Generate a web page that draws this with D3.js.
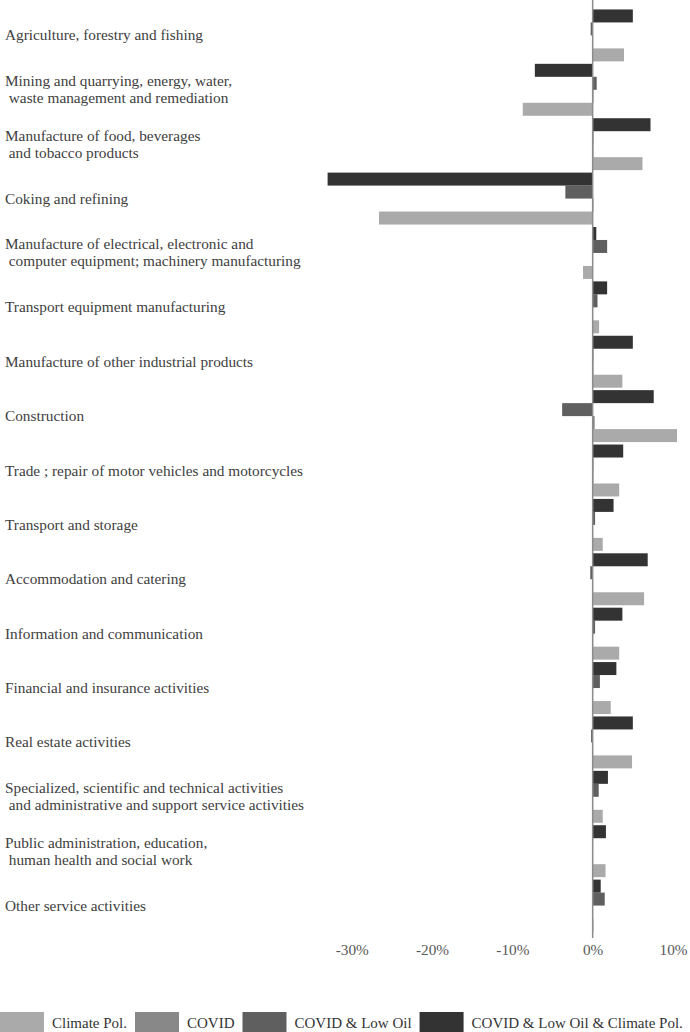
<!DOCTYPE html>
<html>
  <head>
    <meta charset="utf-8">
    <title>Sector impacts</title>
    <script src="https://d3js.org/d3.v7.min.js"></script>
    <style>
      body { margin: 0; background: #fff; }
      svg text { font-family: "Liberation Serif", "Times New Roman", serif; }
      .cat { fill: #404040; font-size: 15.3px; white-space: pre; }
      .tick text { fill: #595959; font-size: 15.3px; }
      .legend text { fill: #333; font-size: 15px; }
    </style>
  </head>
<body>
<svg id="visual" width="690" height="1032"></svg>
<script type="text/javascript">
    // sector labels, one entry per line
    var categories = [
        ["Agriculture, forestry and fishing"],
        ["Mining and quarrying, energy, water,", " waste management and remediation"],
        ["Manufacture of food, beverages", " and tobacco products"],
        ["Coking and refining"],
        ["Manufacture of electrical, electronic and", " computer equipment; machinery manufacturing"],
        ["Transport equipment manufacturing"],
        ["Manufacture of other industrial products"],
        ["Construction"],
        ["Trade ; repair of motor vehicles and motorcycles"],
        ["Transport and storage"],
        ["Accommodation and catering"],
        ["Information and communication"],
        ["Financial and insurance activities"],
        ["Real estate activities"],
        ["Specialized, scientific and technical activities", " and administrative and support service activities"],
        ["Public administration, education,", " human health and social work"],
        ["Other service activities"]
    ];

    var seriesNames = ["Climate Pol.", "COVID", "COVID & Low Oil", "COVID & Low Oil & Climate Pol."];
    var seriesColors = ["#aaaaaa", "#888888", "#5f5f5f", "#333333"];

    // values in %
    var climatePol = [3.9, -8.7, 6.2, -26.6, -1.2, 0.8, 3.7, 10.5, 3.3, 1.25, 6.4, 3.3, 2.25, 4.9, 1.25, 1.6, 0.1];
    var covid = [0.05, 0.1, 0.1, 0.1, 0.05, 0.05, 0.1, 0.25, 0.1, 0.05, 0.05, 0.05, 0.05, 0.05, 0.05, 0.05, 0.05];
    var covidLowOil = [-0.25, 0.5, 0.1, -3.4, 1.8, 0.6, 0.1, -3.8, 0.1, 0.3, -0.3, 0.3, 0.9, -0.2, 0.75, 0.05, 1.5];
    var covidLowOilClimate = [5.0, -7.2, 7.2, -33.0, 0.45, 1.8, 5.0, 7.6, 3.8, 2.6, 6.85, 3.7, 2.95, 5.0, 1.9, 1.65, 1.0];

    var tickValues = [-30, -20, -10, 0, 10];

    var allSeries = [climatePol, covid, covidLowOil, covidLowOilClimate];

    var svg = d3.select("#visual");

    var x = d3.scaleLinear().domain([-30, 10]).range([351.7, 673]);

    var y = d3.scaleBand()
        .domain(d3.range(categories.length))
        .range([7, 934])
        .padding(0.045);

    // top bar in each group is the last series
    var ySub = d3.scaleBand()
        .domain([3, 2, 1, 0])
        .range([0, y.bandwidth()]);

    var rows = [];
    categories.forEach(function(c, i) {
        allSeries.forEach(function(s, k) {
            rows.push({cat: i, series: k, value: s[i]});
        });
    });

    svg.append("g")
        .selectAll("rect")
        .data(rows)
        .enter().append("rect")
        .attr("x", function(d) { return x(Math.min(0, d.value)); })
        .attr("y", function(d) { return y(d.cat) + ySub(d.series); })
        .attr("width", function(d) { return Math.abs(x(d.value) - x(0)); })
        .attr("height", ySub.bandwidth())
        .attr("fill", function(d) { return seriesColors[d.series]; });

    // zero line
    svg.append("line")
        .attr("x1", x(0)).attr("x2", x(0))
        .attr("y1", 0).attr("y2", 938)
        .attr("stroke", "#8c8c8c")
        .attr("stroke-width", 1.5);

    // category labels
    var labels = svg.append("g").selectAll("text")
        .data(categories)
        .enter().append("text")
        .attr("class", "cat")
        .attr("x", 5)
        .attr("y", function(d, i) { return y(i) + y.bandwidth() / 2 + 5 - (d.length - 1) * 8.5; });

    labels.selectAll("tspan")
        .data(function(d) { return d; })
        .enter().append("tspan")
        .attr("x", 5)
        .attr("dy", function(d, j) { return j === 0 ? 0 : 17; })
        .text(function(d) { return d; });

    // x axis, labels only
    var axis = svg.append("g")
        .attr("transform", "translate(0,939)")
        .call(d3.axisBottom(x).tickValues(tickValues).tickSize(0).tickPadding(5)
            .tickFormat(function(d) { return d + "%"; }));
    axis.select(".domain").remove();
    axis.selectAll("text").attr("font-family", null).attr("font-size", null);

    // legend
    var legend = svg.append("g").attr("class", "legend");
    var lx = 0;
    seriesNames.forEach(function(name, k) {
        legend.append("rect")
            .attr("x", lx).attr("y", 1012)
            .attr("width", 44).attr("height", 22)
            .attr("fill", seriesColors[k]);
        var t = legend.append("text")
            .attr("x", lx + 52).attr("y", 1028)
            .text(name);
        lx = lx + 52 + t.node().getComputedTextLength() + 8;
    });
</script>
</body>
</html>
